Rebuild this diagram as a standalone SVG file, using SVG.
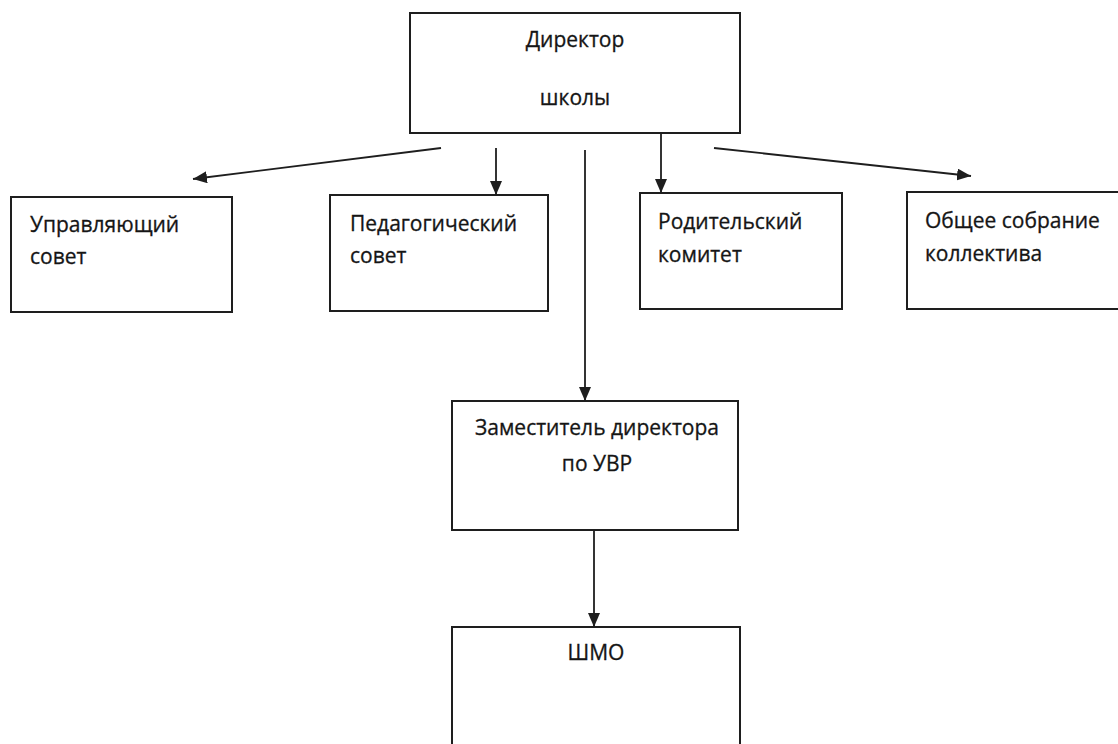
<svg xmlns="http://www.w3.org/2000/svg" width="1118" height="744" viewBox="0 0 1118 744">
<defs>
<style>
.box{fill:#fff;stroke:#1e1e1e;stroke-width:2}
.t{font-family:"Open Sans","Noto Sans","DejaVu Sans",sans-serif;font-size:21px;fill:#151515;stroke:#151515;stroke-width:0.3}
.c{text-anchor:middle}
.ln{stroke:#1e1e1e;stroke-width:1.8;fill:none}
</style>
<marker id="ah" viewBox="0 0 14 12" refX="14" refY="6" markerWidth="14" markerHeight="12" markerUnits="userSpaceOnUse" orient="auto">
<path d="M0,0 L14,6 L0,12 Z" fill="#1e1e1e"/>
</marker>
</defs>
<rect width="1118" height="744" fill="#fff"/>
<g id="director">
<rect class="box" x="410" y="13" width="330" height="120"/>
<text class="t c" x="575" y="47">Директор</text>
<text class="t c" x="575" y="105">школы</text>
</g>
<g id="upr">
<rect class="box" x="11" y="197" width="221" height="115"/>
<text class="t" x="30" y="232">Управляющий</text>
<text class="t" x="30" y="264">совет</text>
</g>
<g id="ped">
<rect class="box" x="330" y="195" width="218" height="116"/>
<text class="t" x="350" y="231">Педагогический</text>
<text class="t" x="350" y="263">совет</text>
</g>
<g id="rod">
<rect class="box" x="640" y="193" width="202" height="116"/>
<text class="t" x="658" y="229">Родительский</text>
<text class="t" x="658" y="262">комитет</text>
</g>
<g id="obsh">
<rect class="box" x="907" y="192" width="220" height="117"/>
<text class="t" x="925" y="228">Общее собрание</text>
<text class="t" x="925" y="261">коллектива</text>
</g>
<g id="zam">
<rect class="box" x="452" y="401" width="286" height="129"/>
<text class="t c" x="597" y="435">Заместитель директора</text>
<text class="t c" x="597" y="471">по УВР</text>
</g>
<g id="shmo">
<rect class="box" x="452" y="627" width="288" height="130"/>
<text class="t c" x="596" y="660">ШМО</text>
</g>
<g id="connectors">
<line class="ln" x1="441" y1="148" x2="193" y2="179" marker-end="url(#ah)"/>
<line class="ln" x1="496" y1="148" x2="496" y2="195" marker-end="url(#ah)"/>
<line class="ln" x1="585" y1="150" x2="585" y2="401" marker-end="url(#ah)"/>
<line class="ln" x1="661" y1="133" x2="661" y2="193" marker-end="url(#ah)"/>
<line class="ln" x1="714" y1="148" x2="971" y2="176" marker-end="url(#ah)"/>
<line class="ln" x1="594" y1="530" x2="594" y2="627" marker-end="url(#ah)"/>
</g>
</svg>
